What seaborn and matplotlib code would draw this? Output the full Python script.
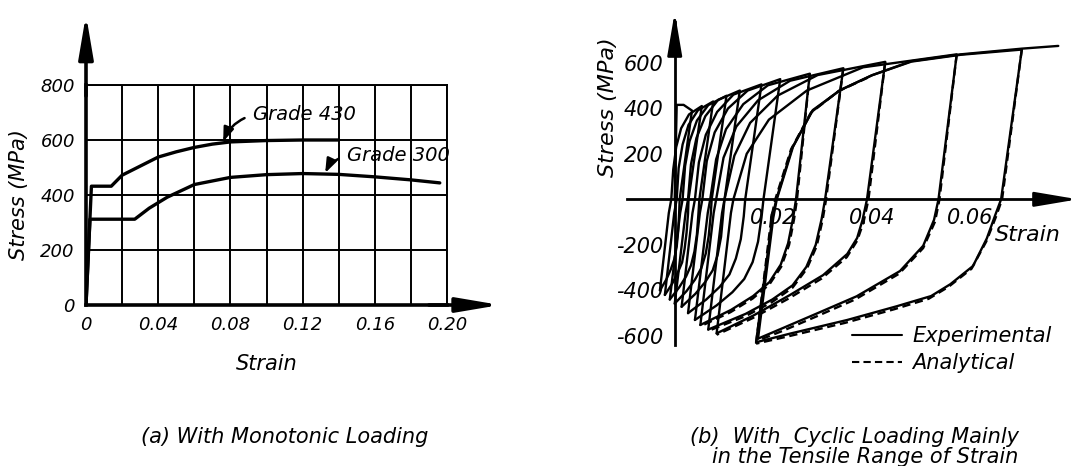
import numpy as np
import pandas as pd
import seaborn as sns
import matplotlib
matplotlib.use('Agg')
import matplotlib.pyplot as plt
from matplotlib.lines import Line2D
from matplotlib.ticker import MultipleLocator, FuncFormatter

# ---- (a) monotonic loading ----
g430_strain = [0, 0.003, 0.014, 0.02, 0.03, 0.04, 0.05, 0.06, 0.07, 0.08, 0.10, 0.12, 0.14]
g430_stress = [0, 432, 432, 472, 505, 538, 557, 573, 585, 593, 598, 600, 600]
g300_strain = [0, 0.0022, 0.027, 0.035, 0.045, 0.06, 0.08, 0.10, 0.12, 0.14, 0.16, 0.18, 0.196]
g300_stress = [0, 312, 312, 352, 392, 438, 464, 474, 478, 475, 466, 455, 444]

# ---- (b) cyclic loading, experimental path cycle by cycle ----
cyc01_strain = [0, 0.0002, 0.0004, 0.0018, 0.0035, 0.0010, 0.0009, 0.0007, 0.0004, -0.0001, -0.0008, -0.0017, -0.0030]
cyc01_stress = [0, 210, 415, 415, 390, 0, -60, -140, -208, -264, -308, -352, -400]
cyc02_strain = [-0.0030, -0.0012, -0.0007, -0.0003, 0.0003, 0.0013, 0.0029, 0.0055, 0.0028, 0.0027, 0.0024, 0.0020, 0.0015, 0.0006, -0.0005, -0.0020]
cyc02_stress = [-400, -60, 0, 131, 230, 312, 373, 410, 0, -63, -147, -218, -277, -323, -370, -420]
cyc03_strain = [-0.0020, -0.0001, 0.0004, 0.0008, 0.0016, 0.0028, 0.0047, 0.0078, 0.0050, 0.0048, 0.0045, 0.0040, 0.0033, 0.0023, 0.0009, -0.0010]
cyc03_stress = [-420, -60, 0, 138, 241, 327, 391, 430, 0, -66, -154, -229, -290, -339, -387, -440]
cyc04_strain = [-0.0010, 0.0011, 0.0016, 0.0021, 0.0030, 0.0045, 0.0068, 0.0105, 0.0075, 0.0073, 0.0069, 0.0063, 0.0054, 0.0041, 0.0024, 0.0000]
cyc04_stress = [-440, -60, 0, 146, 255, 346, 414, 455, 0, -69, -160, -238, -302, -353, -403, -458]
cyc05_strain = [0.0000, 0.0022, 0.0027, 0.0033, 0.0044, 0.0062, 0.0088, 0.0132, 0.0101, 0.0098, 0.0094, 0.0087, 0.0077, 0.0062, 0.0042, 0.0014]
cyc05_stress = [-458, -60, 0, 154, 269, 365, 437, 478, 0, -71, -165, -245, -312, -363, -415, -472]
cyc06_strain = [0.0014, 0.0036, 0.0041, 0.0049, 0.0063, 0.0086, 0.0119, 0.0176, 0.0143, 0.0140, 0.0134, 0.0124, 0.0111, 0.0091, 0.0064, 0.0027]
cyc06_stress = [-472, -60, 0, 162, 283, 384, 460, 505, 0, -75, -175, -260, -330, -385, -440, -500]
cyc07_strain = [0.0027, 0.0051, 0.0056, 0.0065, 0.0081, 0.0108, 0.0148, 0.0214, 0.0180, 0.0176, 0.0169, 0.0158, 0.0141, 0.0117, 0.0085, 0.0041]
cyc07_stress = [-500, -60, 0, 168, 294, 399, 478, 528, 0, -80, -186, -276, -350, -408, -466, -530]
cyc08_strain = [0.0041, 0.0067, 0.0072, 0.0084, 0.0104, 0.0139, 0.0189, 0.0274, 0.0246, 0.0240, 0.0230, 0.0215, 0.0192, 0.0159, 0.0114, 0.0052]
cyc08_stress = [-530, -60, 0, 176, 308, 418, 501, 552, 0, -83, -193, -287, -364, -425, -486, -552]
cyc09_strain = [0.0052, 0.0079, 0.0084, 0.0099, 0.0125, 0.0169, 0.0234, 0.0342, 0.0305, 0.0298, 0.0286, 0.0267, 0.0239, 0.0198, 0.0144, 0.0068]
cyc09_stress = [-552, -60, 0, 183, 320, 435, 521, 576, 0, -86, -200, -297, -378, -440, -503, -572]
cyc10_strain = [0.0068, 0.0096, 0.0101, 0.0121, 0.0153, 0.0209, 0.0290, 0.0427, 0.0390, 0.0381, 0.0370, 0.0350, 0.0301, 0.0234, 0.0160, 0.0085]
cyc10_stress = [-572, -60, 0, 192, 336, 456, 546, 604, 0, -90, -170, -240, -333, -420, -510, -589]
cyc11_strain = [0.0085, 0.0114, 0.0119, 0.0146, 0.0191, 0.0268, 0.0382, 0.0572, 0.0535, 0.0526, 0.0504, 0.0457, 0.0369, 0.0290, 0.0220, 0.0169]
cyc11_stress = [-589, -60, 0, 200, 350, 478, 580, 637, 0, -90, -204, -315, -426, -500, -565, -612]
cyc12_strain = [0.0169, 0.0200, 0.0207, 0.0240, 0.0280, 0.0336, 0.0400, 0.0480, 0.0580, 0.0704, 0.0662, 0.0650, 0.0633, 0.0605, 0.0559, 0.0520, 0.0450, 0.0350, 0.0234, 0.0165]
cyc12_stress = [-612, -80, 0, 231, 392, 480, 545, 605, 635, 658, 0, -70, -172, -293, -373, -425, -470, -530, -590, -628]
cyc13_strain = [0.0165, 0.0198, 0.0206, 0.0238, 0.0278, 0.0334, 0.0400, 0.0480, 0.0580, 0.0704, 0.0778]
cyc13_stress = [-628, -80, 0, 225, 385, 478, 545, 607, 637, 662, 674]

# analytical branches (dashed)
ana08_strain = [0.0274, 0.0248, 0.0242, 0.0232, 0.0216, 0.0192, 0.0158, 0.0113, 0.0052]
ana08_stress = [552, 0, -88, -200, -296, -374, -436, -496, -558]
ana09_strain = [0.0342, 0.0307, 0.0300, 0.0288, 0.0268, 0.0239, 0.0197, 0.0143, 0.0068]
ana09_stress = [576, 0, -90, -205, -305, -388, -452, -514, -578]
ana10_strain = [0.0427, 0.0393, 0.0383, 0.0370, 0.0349, 0.0298, 0.0231, 0.0158, 0.0085]
ana10_stress = [604, 0, -100, -182, -254, -348, -436, -522, -595]
ana11_strain = [0.0572, 0.0537, 0.0528, 0.0504, 0.0455, 0.0366, 0.0288, 0.0220, 0.0169]
ana11_stress = [637, 0, -98, -214, -327, -440, -514, -577, -620]
ana12_strain = [0.0704, 0.0664, 0.0651, 0.0632, 0.0602, 0.0555, 0.0515, 0.0445, 0.0345, 0.0234, 0.0165]
ana12_stress = [658, 0, -80, -185, -305, -385, -437, -483, -543, -600, -634]
ana13_strain = [0.0165, 0.0196, 0.0204, 0.0236, 0.0276, 0.0332, 0.0400]
ana13_stress = [-634, -80, 0, 220, 380, 475, 543]

right_xticks = [0.01, 0.02, 0.03, 0.04, 0.05, 0.06, 0.07]
right_xticklabels = ['', '0.02', '', '0.04', '', '0.06', '']
right_yticks = [-600, -400, -200, 200, 400, 600]

curves = [
    ('Experimental', cyc01_strain, cyc01_stress), ('Experimental', cyc02_strain, cyc02_stress),
    ('Experimental', cyc03_strain, cyc03_stress), ('Experimental', cyc04_strain, cyc04_stress),
    ('Experimental', cyc05_strain, cyc05_stress), ('Experimental', cyc06_strain, cyc06_stress),
    ('Experimental', cyc07_strain, cyc07_stress), ('Experimental', cyc08_strain, cyc08_stress),
    ('Experimental', cyc09_strain, cyc09_stress), ('Experimental', cyc10_strain, cyc10_stress),
    ('Experimental', cyc11_strain, cyc11_stress), ('Experimental', cyc12_strain, cyc12_stress),
    ('Experimental', cyc13_strain, cyc13_stress),
    ('Analytical', ana08_strain, ana08_stress), ('Analytical', ana09_strain, ana09_stress),
    ('Analytical', ana10_strain, ana10_stress), ('Analytical', ana11_strain, ana11_stress),
    ('Analytical', ana12_strain, ana12_stress), ('Analytical', ana13_strain, ana13_stress),
]
loops = pd.concat([pd.DataFrame({'strain': e, 'stress': s, 'curve': i, 'kind': k})
                   for i, (k, e, s) in enumerate(curves)], ignore_index=True)

sns.set_style('white')
plt.rcParams['font.family'] = ['DejaVu Sans']
plt.rcParams['font.style'] = 'italic'
for key in ['text.color', 'axes.labelcolor', 'xtick.color', 'ytick.color']:
    plt.rcParams[key] = 'black'

W, H = 1080, 466
fig = plt.figure(figsize=(10.8, 4.66), dpi=100)
arrow_head = '-|>,head_length=1.3,head_width=0.22'

# ---------------- left panel ----------------
axL = fig.add_axes([86 / W, 1 - 305 / H, 361 / W, 220 / H])
sns.lineplot(x=g430_strain, y=g430_stress, ax=axL, color='k', lw=2.4, sort=False, estimator=None)
sns.lineplot(x=g300_strain, y=g300_stress, ax=axL, color='k', lw=2.4, sort=False, estimator=None)
axL.set_xlim(0, 0.2)
axL.set_ylim(0, 800)
axL.xaxis.set_major_locator(MultipleLocator(0.04))
axL.xaxis.set_minor_locator(MultipleLocator(0.02))
axL.yaxis.set_major_locator(MultipleLocator(200))
axL.xaxis.set_major_formatter(FuncFormatter(lambda v, p: '0' if abs(v) < 1e-9 else f'{v:.2f}'))
axL.grid(True, which='both', color='k', lw=1.4)
for side in ['top', 'right']:
    axL.spines[side].set_linewidth(1.4)
    axL.spines[side].set_color('k')
for side in ['left', 'bottom']:
    axL.spines[side].set_linewidth(2.6)
    axL.spines[side].set_color('k')
axL.tick_params(which='both', length=0, labelsize=13, pad=8)
axL.set_xlabel('Strain', fontsize=15, labelpad=14)
axL.set_ylabel('Stress (MPa)', fontsize=15, labelpad=8)

axL.annotate('', xy=(0, 1.32), xytext=(0, 0.95), xycoords='axes fraction', annotation_clip=False,
             arrowprops=dict(arrowstyle=arrow_head, mutation_scale=20,
                             lw=2.6, color='k', shrinkA=0, shrinkB=0))
axL.annotate('', xy=(1.147, 0), xytext=(0.95, 0), xycoords='axes fraction', annotation_clip=False,
             arrowprops=dict(arrowstyle=arrow_head, mutation_scale=20,
                             lw=2.6, color='k', shrinkA=0, shrinkB=0))

axL.annotate('Grade 430', xy=(0.076, 594), xytext=(0.0925, 691), ha='left', va='center', fontsize=14,
             arrowprops=dict(arrowstyle='-|>,head_length=0.6,head_width=0.22', connectionstyle='arc3,rad=0.25',
                             lw=1.8, color='k', shrinkA=4, shrinkB=0, relpos=(0, 0.5)))
axL.annotate('Grade 300', xy=(0.1325, 480), xytext=(0.1446, 542), ha='left', va='center', fontsize=14,
             arrowprops=dict(arrowstyle='-|>,head_length=0.6,head_width=0.22', connectionstyle='arc3,rad=0.25',
                             lw=1.8, color='k', shrinkA=4, shrinkB=0, relpos=(0, 0.5)))

# ---------------- right panel ----------------
axR = fig.add_axes([620 / W, 1 - 345 / H, 458 / W, 333 / H])
sns.lineplot(data=loops, x='strain', y='stress', units='curve', estimator=None, sort=False,
             style='kind', dashes={'Experimental': '', 'Analytical': (3.5, 2)},
             color='k', lw=1.7, legend=False, ax=axR)
axR.set_xlim(-0.0111, 0.0818)
axR.set_ylim(-640, 823)
axR.set_xlabel('')
axR.set_ylabel('')
for side in ['top', 'right']:
    axR.spines[side].set_visible(False)
axR.spines['left'].set_position(('data', 0))
axR.spines['bottom'].set_position(('data', 0))
axR.spines['left'].set_linewidth(2)
axR.spines['bottom'].set_linewidth(2)
axR.spines['left'].set_color('k')
axR.spines['bottom'].set_color('k')
axR.spines['left'].set_bounds(-640, 780)
axR.spines['bottom'].set_bounds(-0.0097, 0.076)
axR.set_xticks(right_xticks)
axR.set_xticklabels(right_xticklabels)
axR.set_yticks(right_yticks)
axR.set_yticklabels([str(v) for v in right_yticks])
axR.tick_params(axis='x', direction='in', length=8, width=1.5, pad=6, labelsize=15)
axR.tick_params(axis='y', direction='inout', length=10, width=1.5, pad=3, labelsize=15)
axR.annotate('', xy=(0.0818, 0), xytext=(0.074, 0), annotation_clip=False,
             arrowprops=dict(arrowstyle=arrow_head, mutation_scale=20,
                             lw=2, color='k', shrinkA=0, shrinkB=0))
axR.annotate('', xy=(0, 823), xytext=(0, 700), annotation_clip=False,
             arrowprops=dict(arrowstyle=arrow_head, mutation_scale=20,
                             lw=2, color='k', shrinkA=0, shrinkB=0))

fig.text(608 / W, 1 - 107 / H, 'Stress (MPa)', rotation=90, ha='center', va='center', fontsize=16)
fig.text(1028 / W, 1 - 235 / H, 'Strain', ha='center', va='center', fontsize=16)

handles = [Line2D([0], [0], color='k', lw=1.5),
           Line2D([0], [0], color='k', lw=1.5, ls=(0, (3.5, 2)))]
fig.legend(handles=handles, labels=['Experimental', 'Analytical'], loc='upper left',
           bbox_to_anchor=(852 / W, 1 - 326 / H), frameon=False, fontsize=15,
           handlelength=2.4, handletextpad=0.5, labelspacing=0.35, borderpad=0, borderaxespad=0)

# captions
fig.text(285 / W, 1 - 437 / H, '(a) With Monotonic Loading', ha='center', va='center', fontsize=15)
fig.text(690 / W, 1 - 437 / H, '(b)  With  Cyclic Loading Mainly', ha='left', va='center', fontsize=15)
fig.text(712 / W, 1 - 457 / H, 'in the Tensile Range of Strain', ha='left', va='center', fontsize=15)

fig.savefig('out.png', dpi=100)
